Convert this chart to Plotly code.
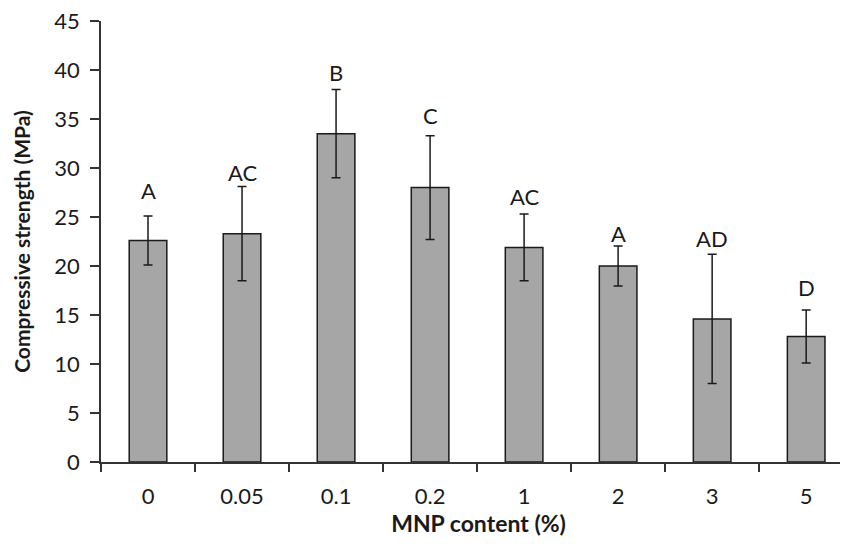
import plotly.graph_objects as go

categories = ["0", "0.05", "0.1", "0.2", "1", "2", "3", "5"]
means = [22.6, 23.3, 33.5, 28.0, 21.9, 20.0, 14.6, 12.8]
errors = [2.5, 4.8, 4.5, 5.3, 3.4, 2.05, 6.6, 2.7]
letters = ["A", "AC", "B", "C", "AC", "A", "AD", "D"]
letter_base = [26.7, 28.6, 38.8, 34.4, 26.1, 22.3, 21.8, 16.8]

FONT = "Lato, 'Open Sans', sans-serif"

fig = go.Figure()
fig.add_trace(go.Bar(
    x=categories, y=means,
    width=0.4,
    marker=dict(color="#a6a6a6", line=dict(color="#1a1a1a", width=1.5)),
    error_y=dict(type="data", array=errors, visible=True, color="#1a1a1a",
                 thickness=1.5, width=4.5),
    showlegend=False,
))

for i, (yb, l) in enumerate(zip(letter_base, letters)):
    fig.add_annotation(x=i, y=yb, text=l, showarrow=False, yanchor="bottom",
                       yshift=-6, font=dict(family=FONT, size=22, color="#1a1a1a"))

fig.update_layout(
    width=848, height=548,
    margin=dict(l=93, r=0, t=13, b=94),
    plot_bgcolor="white", paper_bgcolor="white",
    font=dict(family=FONT, size=22, color="#1a1a1a"),
)
fig.update_xaxes(
    type="category", range=[-0.5, 7.53], automargin=False,
    showline=True, linecolor="#333", linewidth=1.5,
    ticks="outside", tickson="boundaries", ticklen=8, tickcolor="#333", tickwidth=1.5,
    ticklabelstandoff=14,
    showgrid=False, zeroline=False,
    title=dict(text="<b>MNP content (%)</b>", font=dict(family=FONT, size=23), standoff=6),
)
fig.update_yaxes(
    range=[0, 45], dtick=5, automargin=False, ticklabeloverflow="allow",
    showline=True, linecolor="#333", linewidth=1.5,
    ticks="outside", ticklen=9, tickcolor="#333", tickwidth=1.5,
    ticklabelstandoff=6,
    showgrid=False, zeroline=False,
    title=dict(text="<b>Compressive strength (MPa)</b>", font=dict(family=FONT, size=21), standoff=18),
)

fig.write_html("out.html")
